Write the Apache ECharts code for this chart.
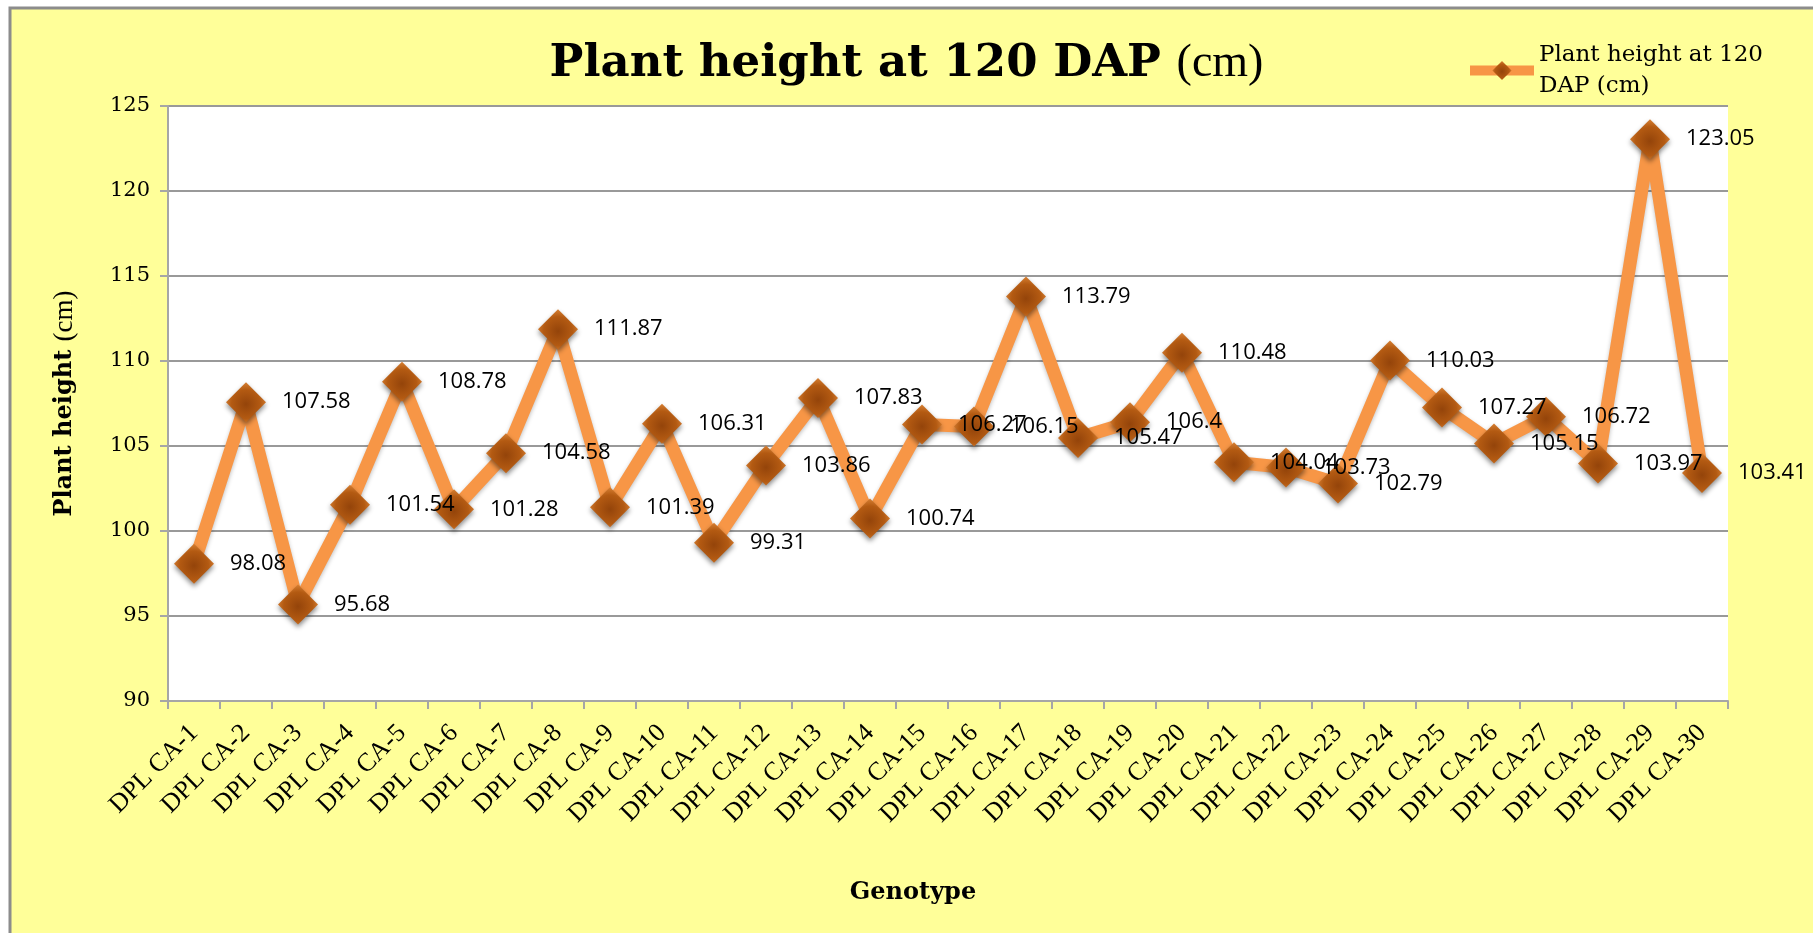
<!DOCTYPE html>
<html>
<head>
<meta charset="utf-8">
<title>Plant height at 120 DAP</title>
<script src="https://cdn.jsdelivr.net/npm/echarts@6/dist/echarts.min.js"></script>
<style>
  html, body { margin: 0; padding: 0; background: #fff; }
  #chart { width: 1813px; height: 933px; }
</style>
</head>
<body>
<div id="chart"></div>
<script>
// genotypes on the x axis
const genotypes = [
  'DPL CA-1', 'DPL CA-2', 'DPL CA-3', 'DPL CA-4', 'DPL CA-5', 'DPL CA-6',
  'DPL CA-7', 'DPL CA-8', 'DPL CA-9', 'DPL CA-10', 'DPL CA-11', 'DPL CA-12',
  'DPL CA-13', 'DPL CA-14', 'DPL CA-15', 'DPL CA-16', 'DPL CA-17', 'DPL CA-18',
  'DPL CA-19', 'DPL CA-20', 'DPL CA-21', 'DPL CA-22', 'DPL CA-23', 'DPL CA-24',
  'DPL CA-25', 'DPL CA-26', 'DPL CA-27', 'DPL CA-28', 'DPL CA-29', 'DPL CA-30'
];
// plant height at 120 DAP (cm)
const plantHeight = [
  98.08, 107.58, 95.68, 101.54, 108.78, 101.28,
  104.58, 111.87, 101.39, 106.31, 99.31, 103.86,
  107.83, 100.74, 106.27, 106.15, 113.79, 105.47,
  106.4, 110.48, 104.04, 103.73, 102.79, 110.03,
  107.27, 105.15, 106.72, 103.97, 123.05, 103.41
];
const yMin = 90;
const yMax = 125;
const yStep = 5;

const chart = echarts.init(document.getElementById('chart'));

// diamond fill: lighter orange rim, brown middle
const markerFill = {
  type: 'radial', x: 0.5, y: 0.55, r: 0.6,
  colorStops: [
    { offset: 0, color: '#94440a' },
    { offset: 0.6, color: '#b35a12' },
    { offset: 1, color: '#e08a3c' }
  ]
};

const option = {
  backgroundColor: '#ffffff',
  animation: false,
  graphic: [
    {
      type: 'rect',
      z: -100,
      silent: true,
      shape: { x: 10, y: 8, width: 1820, height: 940 },
      style: { fill: '#ffff99', stroke: '#8c8c8c', lineWidth: 3 }
    }
  ],
  title: {
    text: '{b|Plant height at 120 DAP }{r|(cm)}',
    left: 'center',
    top: 36,
    textStyle: {
      rich: {
        b: { fontFamily: 'DejaVu Serif', fontWeight: 'bold', fontSize: 45, color: '#000' },
        r: { fontFamily: 'Liberation Serif', fontWeight: 'normal', fontSize: 46, color: '#000' }
      }
    }
  },
  legend: {
    left: 1460,
    top: 19,
    itemWidth: 64,
    itemHeight: 24,
    itemGap: 0,
    formatter: () => 'Plant height at 120\nDAP (cm)',
    lineStyle: { width: 10 },
    textStyle: {
      fontFamily: 'DejaVu Serif',
      fontSize: 23,
      lineHeight: 31,
      color: '#000',
      padding: [31, 0, 0, 0]
    }
  },
  grid: {
    left: 168,
    right: 85,
    top: 106,
    bottom: 232,
    show: true,
    backgroundColor: '#ffffff',
    borderWidth: 0
  },
  xAxis: {
    type: 'category',
    data: genotypes,
    boundaryGap: true,
    name: 'Genotype',
    nameLocation: 'middle',
    nameGap: 180,
    nameTextStyle: {
      fontFamily: 'DejaVu Serif',
      fontWeight: 'bold',
      fontSize: 24,
      color: '#000',
      padding: [0, 70, 0, 0]
    },
    axisLine: { lineStyle: { color: '#a6a6a6', width: 2 } },
    axisTick: { show: true, length: 8, lineStyle: { color: '#a6a6a6', width: 2 } },
    axisLabel: {
      interval: 0,
      rotate: 45,
      margin: 28,
      fontFamily: 'Liberation Serif',
      fontSize: 26,
      color: '#000'
    },
    splitLine: { show: false }
  },
  yAxis: {
    type: 'value',
    min: yMin,
    max: yMax,
    interval: yStep,
    name: '{b|Plant height }{r|(cm)}',
    nameLocation: 'middle',
    nameGap: 90,
    nameTextStyle: {
      rich: {
        b: { fontFamily: 'DejaVu Serif', fontWeight: 'bold', fontSize: 24, color: '#000' },
        r: { fontFamily: 'Liberation Serif', fontWeight: 'normal', fontSize: 27, color: '#000' }
      }
    },
    axisLine: { show: true, lineStyle: { color: '#a6a6a6', width: 2 } },
    axisTick: { show: true, length: 8, lineStyle: { color: '#a6a6a6', width: 2 } },
    axisLabel: {
      margin: 18,
      fontFamily: 'DejaVu Serif',
      fontSize: 21,
      color: '#000'
    },
    splitLine: { lineStyle: { color: '#999999', width: 2 } }
  },
  series: [
    {
      name: 'Plant height at 120 DAP (cm)',
      type: 'line',
      data: plantHeight,
      symbol: 'diamond',
      symbolSize: 40,
      lineStyle: {
        color: '#f79646',
        width: 13,
        shadowColor: 'rgba(0,0,0,0.25)',
        shadowBlur: 4,
        shadowOffsetY: 2
      },
      itemStyle: {
        color: markerFill,
        borderWidth: 0,
        shadowColor: 'rgba(0,0,0,0.45)',
        shadowBlur: 5,
        shadowOffsetY: 3
      },
      label: {
        show: true,
        position: 'right',
        distance: 16,
        fontFamily: 'Open Sans',
        fontSize: 22,
        color: '#000'
      },
      emphasis: { disabled: true }
    }
  ]
};

chart.setOption(option);
</script>
</body>
</html>
